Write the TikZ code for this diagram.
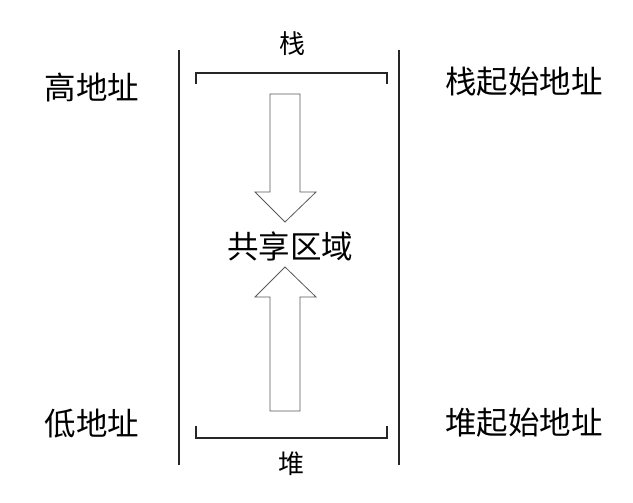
\documentclass[tikz,border=0pt]{standalone}
\usepackage{fontspec}
\usetikzlibrary{calc}
\newfontfamily\cjk{Noto Sans CJK SC}
\begin{document}
\begin{tikzpicture}[x=1pt,y=-1pt,
  bigtxt/.style={font=\cjk\fontsize{31.5}{33}\selectfont, inner sep=0pt},
  smalltxt/.style={font=\cjk\fontsize{26}{28}\selectfont, inner sep=0pt},
  wall/.style={line width=1.6pt, black!85},
  brk/.style={line width=1.8pt, black!85},
  arr/.style={line width=0.8pt, black!65, fill=white}]
\useasboundingbox (0,0) rectangle (633,503);
% walls
\coordinate (lt) at (179,50); \coordinate (lb) at (179,465);
\coordinate (rt) at (399,50); \coordinate (rb) at (399,465);
\draw[wall] (lt) -- (lb);
\draw[wall] (rt) -- (rb);
% brackets
\coordinate (tb1) at (196,84); \coordinate (tb2) at (387,84);
\draw[brk] (tb1) -- ++(0,-11) -- ($(tb2)+(0,-11)$) -- (tb2);
\coordinate (bb1) at (196,426); \coordinate (bb2) at (387,426);
\draw[brk] (bb1) -- ++(0,12) -- ($(bb2)+(0,12)$) -- (bb2);
% arrows
\draw[arr] (270,94) -- (300,94) -- (300,192) -- (316,192) -- (285,222) -- (255,192) -- (270,192) -- cycle;
\draw[arr] (270,411) -- (300,411) -- (300,297) -- (316,297) -- (285,267) -- (255,297) -- (270,297) -- cycle;
% labels
\node[smalltxt] (stack) at (292,44) {栈};
\node[smalltxt] (heap) at (291,464) {堆};
\node[bigtxt] (hi) at (92,87) {高地址};
\node[bigtxt] (lo) at (92,424) {低地址};
\node[bigtxt] (ss) at (524,82) {栈起始地址};
\node[bigtxt] (hs) at (524,423) {堆起始地址};
\node[bigtxt] (sh) at (290,246) {共享区域};
\end{tikzpicture}
\end{document}
